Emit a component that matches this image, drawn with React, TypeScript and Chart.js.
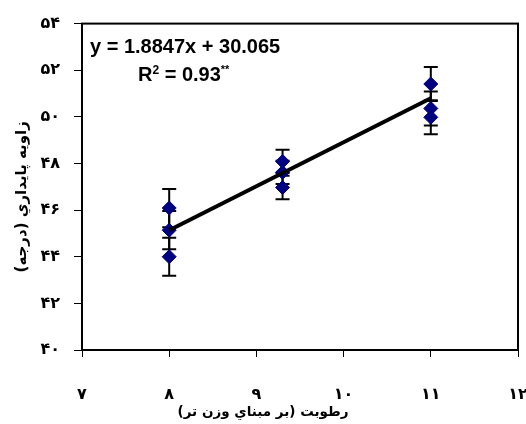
import React, { useEffect, useRef } from 'react';
import { Chart, registerables } from 'chart.js';

Chart.register(...registerables);

// ---- data ----
const pointX = [8, 8, 8, 9.3, 9.3, 9.3, 11, 11, 11];
const angleValues = [46.09, 45.14, 44.0, 48.09, 47.62, 46.97, 51.41, 50.36, 49.98];
const errorValues = [0.82, 0.82, 0.82, 0.5, 0.5, 0.5, 0.73, 0.73, 0.73];
const trendX = [8, 11];
const trendY = [45.14, 50.8];

const xTickValues = [7, 8, 9, 10, 11, 12];
const xTickLabels = ['۷', '۸', '۹', '۱۰', '۱۱', '۱۲'];
const yTickValues = [40, 42, 44, 46, 48, 50, 52, 54];
const yTickLabels = ['۴۰', '۴۲', '۴۴', '۴۶', '۴۸', '۵۰', '۵۲', '۵۴'];

const xTitle = 'رطوبت (بر مبناي وزن تر)';
const yTitle = 'زاويه پايداري (درجه)';
const equationText = 'y = 1.8847x + 30.065';
const r2Text = '0.93';

const FONT_LATIN = "'Liberation Sans', Arial, 'DejaVu Sans', sans-serif";
const FONT_FA = "'DejaVu Sans', 'Liberation Sans', sans-serif";

const errorBarPlugin = {
  id: 'errorBars',
  beforeDatasetsDraw(chart: any) {
    const ctx = chart.ctx;
    const xs = chart.scales.x;
    const ys = chart.scales.y;
    ctx.save();
    ctx.strokeStyle = '#000';
    ctx.lineWidth = 2;
    for (let i = 0; i < pointX.length; i++) {
      const px = xs.getPixelForValue(pointX[i]);
      const top = ys.getPixelForValue(angleValues[i] + errorValues[i]);
      const bot = ys.getPixelForValue(angleValues[i] - errorValues[i]);
      ctx.beginPath();
      ctx.moveTo(px, top);
      ctx.lineTo(px, bot);
      ctx.moveTo(px - 7, top);
      ctx.lineTo(px + 7, top);
      ctx.moveTo(px - 7, bot);
      ctx.lineTo(px + 7, bot);
      ctx.stroke();
    }
    ctx.restore();
  },
};

const framePlugin = {
  id: 'frame',
  afterDraw(chart: any) {
    const { ctx, chartArea } = chart;
    ctx.save();
    ctx.strokeStyle = '#000';
    ctx.lineWidth = 2;
    ctx.strokeRect(chartArea.left, chartArea.top, chartArea.right - chartArea.left, chartArea.bottom - chartArea.top);
    ctx.restore();
  },
};

const textPlugin = {
  id: 'texts',
  afterDraw(chart: any) {
    const { ctx, chartArea } = chart;
    ctx.save();
    ctx.fillStyle = '#000';
    // equation
    ctx.textBaseline = 'middle';
    ctx.textAlign = 'left';
    ctx.font = `bold 20px ${FONT_LATIN}`;
    ctx.fillText(equationText, chartArea.left + 8, chartArea.top + 24);
    // R^2
    let x = chartArea.left + 56;
    const y = chartArea.top + 52;
    ctx.fillText('R', x, y);
    x += ctx.measureText('R').width;
    ctx.font = `bold 12px ${FONT_LATIN}`;
    ctx.fillText('2', x, y - 5);
    x += ctx.measureText('2').width;
    ctx.font = `bold 20px ${FONT_LATIN}`;
    const mid = ' = ' + r2Text;
    ctx.fillText(mid, x, y);
    x += ctx.measureText(mid).width;
    ctx.font = `bold 11px ${FONT_LATIN}`;
    ctx.fillText('**', x, y - 6);

    // x title
    ctx.font = `bold 13.5px ${FONT_FA}`;
    (ctx as any).direction = 'rtl';
    ctx.textAlign = 'center';
    ctx.fillText(xTitle, chart.width / 2, 412);

    // y title
    ctx.font = `bold 15px ${FONT_FA}`;
    ctx.translate(22, (chartArea.top + chartArea.bottom) / 2 + 10);
    ctx.rotate(-Math.PI / 2);
    ctx.fillText(yTitle, 0, 0);
    ctx.restore();
  },
};

function lookup(values: number[], labels: string[], v: number) {
  const i = values.indexOf(Math.round(v * 1000) / 1000);
  return i >= 0 ? labels[i] : '';
}

export default function App() {
  const canvasRef = useRef<HTMLCanvasElement | null>(null);

  useEffect(() => {
    if (!canvasRef.current) return;
    const chart = new Chart(canvasRef.current, {
      type: 'scatter',
      data: {
        datasets: [
          {
            type: 'line',
            data: trendX.map((x, i) => ({ x, y: trendY[i] })),
            borderColor: '#000',
            borderWidth: 4,
            pointRadius: 0,
            fill: false,
            order: 0,
          } as any,
          {
            type: 'scatter',
            data: pointX.map((x, i) => ({ x, y: angleValues[i] })),
            pointStyle: 'rectRot',
            pointRadius: 7,
            backgroundColor: '#000080',
            borderColor: '#000080',
            borderWidth: 1,
            order: 1,
          },
        ],
      },
      options: {
        animation: false,
        responsive: false,
        layout: { padding: { top: 23, right: 8, left: 0, bottom: 0 } },
        plugins: { legend: { display: false }, tooltip: { enabled: false } },
        scales: {
          x: {
            type: 'linear',
            min: 7,
            max: 12,
            afterFit(scale: any) {
              scale.height = 74;
              scale.paddingRight = 8;
              scale.paddingLeft = 0;
            },
            afterBuildTicks(scale: any) {
              scale.ticks = xTickValues.map((v) => ({ value: v }));
            },
            ticks: {
              padding: 28,
              maxRotation: 0,
              color: '#000',
              font: { family: FONT_FA, size: 16, weight: 'bold' },
              callback: (v: any) => lookup(xTickValues, xTickLabels, Number(v)),
            },
            grid: { drawOnChartArea: false, drawTicks: true, tickLength: 7, color: '#000', tickWidth: 1 },
            border: { display: true, color: '#000', width: 2 },
          },
          y: {
            type: 'linear',
            min: 40,
            max: 54,
            afterFit(scale: any) {
              scale.width = 82;
            },
            afterBuildTicks(scale: any) {
              scale.ticks = yTickValues.map((v) => ({ value: v }));
            },
            ticks: {
              padding: 14,
              color: '#000',
              font: { family: FONT_FA, size: 16, weight: 'bold' },
              callback: (v: any) => lookup(yTickValues, yTickLabels, Number(v)),
            },
            grid: { drawOnChartArea: false, drawTicks: true, tickLength: 8, color: '#000', tickWidth: 1 },
            border: { display: true, color: '#000', width: 2 },
          },
        },
      } as any,
      plugins: [errorBarPlugin, framePlugin, textPlugin],
    });
    return () => chart.destroy();
  }, []);

  return (
    <canvas
      ref={canvasRef}
      width={526}
      height={424}
      style={{ position: 'absolute', left: 0, top: 0, width: 526, height: 424 }}
    />
  );
}
